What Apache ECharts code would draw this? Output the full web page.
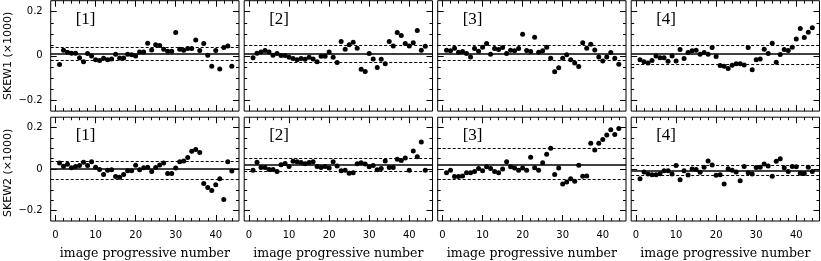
<!DOCTYPE html>
<html>
<head>
<meta charset="utf-8">
<title>SKEW1 / SKEW2 vs image progressive number</title>
<script src="https://cdn.jsdelivr.net/npm/echarts@6/dist/echarts.min.js"></script>
<style>
    html, body { margin: 0; padding: 0; background: #fff; }
    #main { width: 821px; height: 261px; }
</style>
</head>
<body>
<div id="main"></div>
<script>
// image number (x) for every panel
var imageNumber = [1, 2, 3, 4, 5, 6, 7, 8, 9, 10, 11, 12, 13, 14, 15, 16, 17, 18, 19, 20, 21, 22,
    23, 24, 25, 26, 27, 28, 29, 30, 31, 32, 33, 34, 35, 36, 37, 38, 39, 40, 41, 42, 43, 44];

// SKEW1 (x1000), top row
var skew1Set1 = [-0.039, 0.026, 0.017, 0.012, 0.012, -0.008, -0.026, 0.011, 0, -0.018, -0.021, -0.011, -0.018, -0.014, 0.008,
    -0.009, -0.009, 0.008, 0.005, 0, 0.018, 0.018, 0.057, 0.027, 0.051, 0.047, 0.030, 0.021, 0.021, 0.106,
    0.030, 0.026, 0.033, 0.033, 0.072, 0.024, 0.056, 0.003, -0.047, 0.024, -0.059, 0.038, 0.045, -0.047];
var skew1Set2 = [-0.008, 0.012, 0.018, 0.024, 0.018, 0.003, 0.011, 0.002, 0.002, -0.006, -0.012, -0.018, -0.012, -0.015, -0.006,
    -0.014, -0.027, -0.002, -0.002, 0.018, -0.006, -0.030, 0.065, 0.030, 0.051, 0.062, 0.035, -0.060, -0.071, 0.011,
    -0.014, -0.053, -0.015, -0.036, 0.065, 0.045, 0.106, 0.092, 0.056, 0.045, 0.060, 0.115, 0.026, 0.044];
var skew1Set3 = [0.026, 0.023, 0.035, 0.017, 0.020, 0.011, -0.005, 0.033, 0.021, 0.039, 0.056, 0.008, 0.033, 0.029, 0.038,
    0.011, 0.026, 0.023, 0.033, 0.098, 0.024, 0.020, 0.084, 0.017, 0.023, 0.039, -0.011, -0.072, -0.054, -0.011,
    0.005, -0.018, -0.032, -0.048, 0.059, 0.035, 0.053, 0.027, -0.005, -0.023, -0.005, 0.015, -0.011, -0.038];
var skew1Set4 = [-0.018, -0.027, -0.032, -0.021, 0, -0.008, -0.008, -0.024, 0, -0.023, 0.029, -0.012, 0.015, 0.023, 0.026,
    0.008, 0.015, 0.008, 0.038, -0.003, -0.044, -0.047, -0.057, -0.042, -0.035, -0.035, -0.041, 0.038, -0.063, -0.018,
    -0.014, 0.030, 0.011, 0.057, -0.029, 0.006, 0.029, 0.024, 0.039, 0.077, 0.124, 0.083, 0.107, 0.128];

// SKEW2 (x1000), bottom row
var skew2Set1 = [0.029, 0.014, 0.023, 0.006, 0.012, 0.017, 0.033, 0.017, 0.036, 0.009, -0.002, -0.026, -0.005, -0.003, -0.036,
    -0.039, -0.026, -0.008, -0.008, 0.018, -0.003, 0.006, 0.009, -0.012, 0.008, 0.020, 0.029, -0.021, -0.021, 0.005,
    0.035, 0.039, 0.056, 0.086, 0.095, 0.080, -0.069, -0.089, -0.103, -0.075, -0.047, -0.146, 0.035, -0.009];
var skew2Set2 = [-0.005, 0.033, 0.008, 0.008, -0.002, -0.002, -0.011, 0.021, 0.027, 0.012, 0.038, 0.035, 0.032, 0.026, 0.032,
    0.036, 0.012, 0.008, 0.012, 0.005, 0.035, 0.015, -0.008, -0.006, -0.020, -0.017, 0.026, 0.030, 0.024, 0.011,
    0.017, -0.003, 0.003, 0.039, 0.008, 0.008, 0.047, 0.041, 0.053, -0.005, 0.087, 0.059, 0.130, -0.006];
var skew2Set3 = [-0.018, -0.006, -0.036, -0.036, -0.033, -0.017, -0.017, -0.012, 0.003, -0.008, 0.011, 0.003, -0.011, -0.018, 0,
    0.035, 0.011, 0.005, -0.006, 0.005, -0.006, 0.057, 0.006, -0.005, 0.030, 0.072, 0.101, -0.026, 0.005, -0.072,
    -0.062, -0.047, -0.059, 0.018, -0.035, -0.033, 0.125, 0.092, 0.125, 0.143, 0.164, 0.190, 0.167, 0.196];
var skew2Set4 = [-0.047, -0.014, -0.024, -0.027, -0.027, -0.023, -0.008, -0.008, -0.024, 0.017, -0.051, -0.008, -0.029, 0, -0.002,
    -0.015, 0.009, 0.039, 0.020, -0.030, -0.027, -0.072, 0.002, -0.006, -0.014, -0.056, 0.012, -0.018, -0.024, 0.008,
    0.009, 0.024, 0.015, -0.035, 0.038, 0.050, 0.006, -0.012, 0.012, 0.011, -0.020, -0.021, 0.009, -0.011];

// solid (mean) and dashed (upper / lower) reference levels per panel
var skew1Mean = [0.012, 0.015, 0.015, 0.008];
var skew1Upper = [0.045, 0.054, 0.050, 0.054];
var skew1Lower = [-0.020, -0.027, -0.020, -0.039];
var skew2Mean = [0.000, 0.017, 0.023, -0.008];
var skew2Upper = [0.044, 0.050, 0.095, 0.017];
var skew2Lower = [-0.047, -0.006, -0.048, -0.033];

// ticks and labels
var panelNames = ['[1]', '[2]', '[3]', '[4]'];
var rowTitles = ['SKEW1 (\u00d71000)', 'SKEW2 (\u00d71000)'];
var xTickLabels = [0, 10, 20, 30, 40];
var xMinorTicks = [2, 4, 6, 8, 12, 14, 16, 18, 22, 24, 26, 28, 32, 34, 36, 38, 42, 44, 46];
var yTickLabels = [-0.2, 0, 0.2];
var yMinorTicks = [-0.15, -0.1, -0.05, 0.05, 0.1, 0.15];


var myChart = echarts.init(document.getElementById('main'));

var panelSets = [skew1Set1, skew1Set2, skew1Set3, skew1Set4, skew2Set1, skew2Set2, skew2Set3, skew2Set4];
var meanLevels = skew1Mean.concat(skew2Mean);
var upperLevels = skew1Upper.concat(skew2Upper);
var lowerLevels = skew1Lower.concat(skew2Lower);

var gridLeft0 = 50.7, gridStep = 193.5, gridWidth = 188.3;
var rowTop = [0.7, 117.2], rowHeight = [110.4, 111.2];
var xMin = -1.2, xMax = 45.8;

var sansFont = '"DejaVu Sans", sans-serif';
var serifFont = '"DejaVu Serif", serif';

function makeXAxis(gi, pos, ticks, len, labels, name) {
    return {
        type: 'value', gridIndex: gi, position: pos, min: xMin, max: xMax,
        axisLine: {show: false, onZero: false},
        axisTick: {show: true, inside: true, length: len, customValues: ticks, lineStyle: {color: '#000', width: 1}},
        axisLabel: labels ? {show: true, customValues: labels, margin: 9, color: '#000', fontFamily: sansFont, fontSize: 10}
                          : {show: false},
        splitLine: {show: false},
        name: name || '',
        nameLocation: 'middle',
        nameGap: 26,
        nameTextStyle: {color: '#000', fontFamily: serifFont, fontSize: 12.5}
    };
}

function makeYAxis(gi, pos, ticks, len, labels) {
    return {
        type: 'value', gridIndex: gi, position: pos, min: -0.25, max: 0.25,
        axisLine: {show: false, onZero: false},
        axisTick: {show: true, inside: true, length: len, customValues: ticks, lineStyle: {color: '#000', width: 1}},
        axisLabel: labels ? {
            show: true, customValues: labels, margin: 8, color: '#000', fontFamily: sansFont, fontSize: 10,
            formatter: function (v) { return v < 0 ? '\u2212' + Math.abs(v) : String(v); }
        } : {show: false},
        splitLine: {show: false}
    };
}

var grids = [], xAxes = [], yAxes = [], series = [], graphics = [];

for (var i = 0; i < 8; i++) {
    var row = Math.floor(i / 4), col = i % 4;
    var left = gridLeft0 + col * gridStep;

    grids.push({
        left: left, top: rowTop[row], width: gridWidth, height: rowHeight[row],
        show: true, borderColor: '#000', borderWidth: 1, backgroundColor: 'transparent'
    });

    // bottom / top, major then minor ticks
    var bottomRow = row === 1;
    xAxes.push(makeXAxis(i, 'bottom', xTickLabels, 6, bottomRow ? xTickLabels : null, bottomRow ? 'image progressive number' : ''));
    xAxes.push(makeXAxis(i, 'bottom', xMinorTicks, 3, null));
    xAxes.push(makeXAxis(i, 'top', xTickLabels, 6, null));
    xAxes.push(makeXAxis(i, 'top', xMinorTicks, 3, null));

    yAxes.push(makeYAxis(i, 'left', yTickLabels, 6, col === 0 ? yTickLabels : null));
    yAxes.push(makeYAxis(i, 'left', yMinorTicks, 3, null));
    yAxes.push(makeYAxis(i, 'right', yTickLabels, 6, null));
    yAxes.push(makeYAxis(i, 'right', yMinorTicks, 3, null));

    var pts = [];
    for (var k = 0; k < imageNumber.length; k++) {
        pts.push([imageNumber[k], panelSets[i][k]]);
    }

    series.push({
        type: 'scatter', xAxisIndex: i * 4, yAxisIndex: i * 4,
        data: pts, symbolSize: 5,
        itemStyle: {color: '#000', opacity: 1},
        markLine: {
            silent: true, symbol: 'none', label: {show: false},
            data: [
                {yAxis: meanLevels[i], lineStyle: {type: 'solid', color: '#000', width: 1.5}},
                {yAxis: upperLevels[i], lineStyle: {type: [3, 2], color: '#000', width: 1}},
                {yAxis: lowerLevels[i], lineStyle: {type: [3, 2], color: '#000', width: 1}}
            ]
        }
    });

    graphics.push({
        type: 'text', left: left + 25, top: rowTop[row] + 10,
        style: {text: panelNames[col], font: '17px "Liberation Serif", serif', fill: '#000'}
    });
}

// vertical row titles
for (var r = 0; r < 2; r++) {
    graphics.push({
        type: 'text', x: 8, y: rowTop[r] + rowHeight[r] / 2, rotation: Math.PI / 2,
        style: {text: rowTitles[r], font: '11px ' + sansFont, fill: '#000', align: 'center', verticalAlign: 'middle'}
    });
}

var option = {
    backgroundColor: '#fff',
    animation: false,
    grid: grids,
    xAxis: xAxes,
    yAxis: yAxes,
    series: series,
    graphic: graphics
};
myChart.setOption(option);
</script>
</body>
</html>
